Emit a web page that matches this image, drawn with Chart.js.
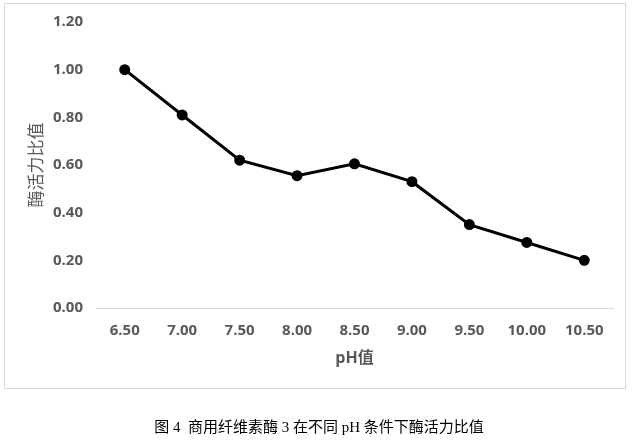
<!DOCTYPE html>
<html>
<head>
<meta charset="utf-8">
<script src="https://cdn.jsdelivr.net/npm/chart.js@4"></script>
<style>
  html, body { margin: 0; padding: 0; background: #fff; }
  #wrap { position: relative; width: 635px; height: 448px; overflow: hidden; }
  #frame { position: absolute; left: 4px; top: 3px; width: 620px; height: 384px; border: 1px solid #d9d9d9; }
  #c { position: absolute; left: 0; top: 0; }
  #caption { position: absolute; left: 0; width: 638px; top: 415px; text-align: center;
    font-family: "Liberation Serif", "Noto Sans CJK SC", serif; font-size: 15px; color: #000; }
</style>
</head>
<body>
<div id="wrap">
  <div id="frame"></div>
  <canvas id="c" width="635" height="448"></canvas>
  <div id="caption">图 4&nbsp; 商用纤维素酶 3 在不同 pH 条件下酶活力比值</div>
</div>
<script>
const categories = ["6.50", "7.00", "7.50", "8.00", "8.50", "9.00", "9.50", "10.00", "10.50"];
const ratioValues = [1.00, 0.81, 0.62, 0.555, 0.605, 0.53, 0.35, 0.275, 0.20];
const xTitle = "pH值";
const yTitle = "酶活力比值";

const tickFont = { family: "'Open Sans', 'Noto Sans CJK SC', sans-serif", size: 15, weight: "bold" };

new Chart(document.getElementById("c"), {
  type: "line",
  data: {
    labels: categories,
    datasets: [{
      data: ratioValues,
      borderColor: "#000",
      backgroundColor: "#000",
      borderWidth: 3,
      pointRadius: 4,
      pointHoverRadius: 4,
      pointBackgroundColor: "#000",
      pointBorderColor: "#000",
      tension: 0,
      fill: false
    }]
  },
  options: {
    responsive: false,
    animation: false,
    devicePixelRatio: 1,
    layout: { padding: { left: 0, right: 22, top: 22, bottom: 65 } },
    plugins: { legend: { display: false }, tooltip: { enabled: false } },
    scales: {
      x: {
        type: "category",
        offset: true,
        grid: { display: false, drawTicks: false },
        border: { display: true, color: "#d9d9d9", width: 1 },
        ticks: { color: "#595959", font: tickFont, padding: 14, maxRotation: 0, autoSkip: false },
        title: { display: true, text: xTitle, color: "#595959",
          font: { family: "'Open Sans', 'Noto Sans CJK SC', sans-serif", size: 16, weight: "bold" },
          padding: { top: 0, bottom: 15 } },
        afterFit: (s) => { s.height = 75; }
      },
      y: {
        min: 0, max: 1.2,
        grid: { display: false, drawTicks: false },
        border: { display: false },
        ticks: { stepSize: 0.2, color: "#595959", font: tickFont, padding: 13,
          callback: (v) => Number(v).toFixed(2) },
        title: { display: true, text: yTitle, color: "#595959",
          font: { family: "'Noto Sans CJK SC', sans-serif", size: 17, weight: "normal" },
          padding: { top: 25, bottom: 0 } },
        afterFit: (s) => { s.width = 96; }
      }
    }
  }
});
</script>
</body>
</html>
